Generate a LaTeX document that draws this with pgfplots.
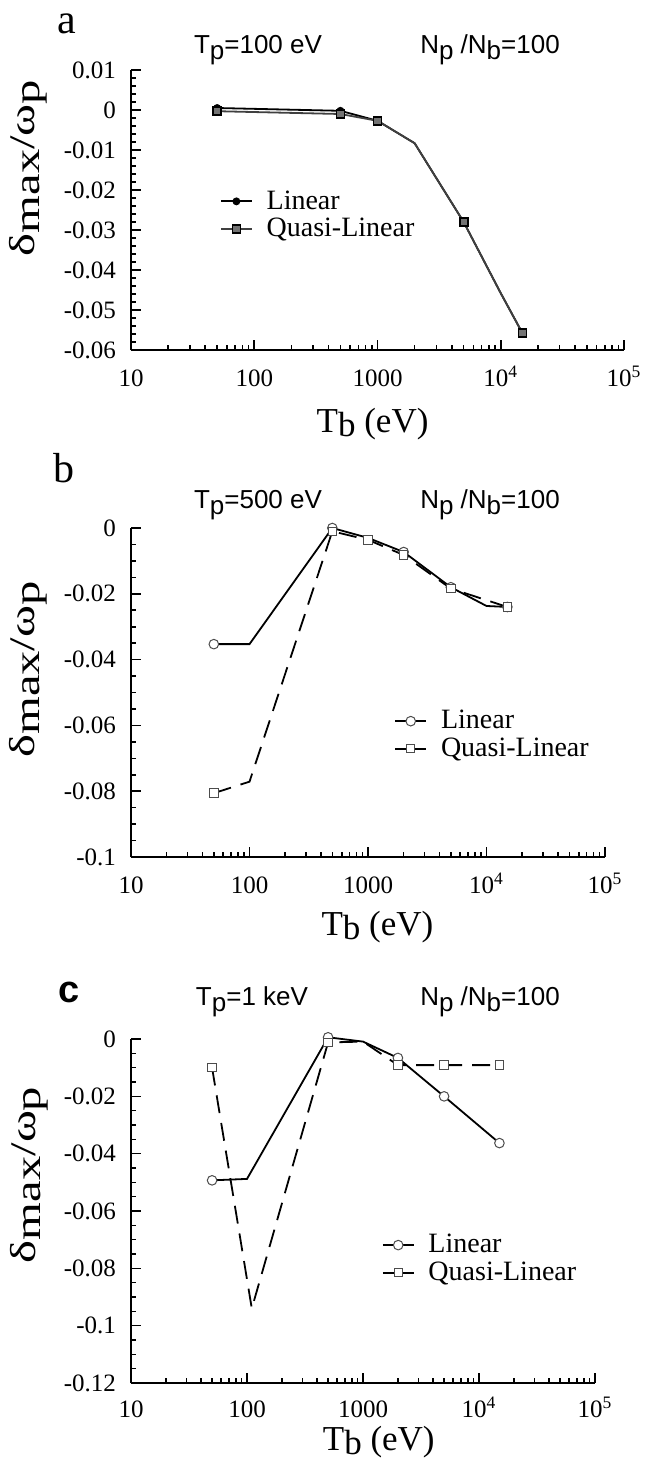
\documentclass[border=0pt]{standalone}
\usepackage{fontspec}
\setmainfont{Liberation Serif}
\setsansfont{Liberation Sans}
\usepackage{pgfplots}
\pgfplotsset{compat=1.18}

\pgfplotsset{
  mypanel/.style={
    xmin=10, xmax=100000, scale only axis, clip=false,
    axis lines=left, axis line style={-, line width=1.2pt},
    tick align=inside, major tick length=5pt, minor tick length=2.6pt,
    tick style={line width=0.8pt, black},
    scaled y ticks=false,
    xtick={10,100,1000,10000,100000},
    xticklabels={10,100,1000,10\textsuperscript{4},10\textsuperscript{5}},
    minor xtick={20,30,40,50,60,70,80,90,200,300,400,500,600,700,800,900,
      2000,3000,4000,5000,6000,7000,8000,9000,20000,30000,40000,50000,60000,70000,80000,90000},
    tick label style={font=\fontsize{12.5}{14}\selectfont},
    xticklabel style={anchor=base, yshift=-18pt},
    yticklabel style={xshift=-4pt},
    xlabel={T\raisebox{-2pt}{b} (eV)},
    ylabel={\scalebox{1.35}[1]{δ\raisebox{-0.3ex}{max}/ω\raisebox{-0.3ex}{p}}},
    xlabel style={font=\fontsize{17.5}{20}\selectfont, anchor=base, inner sep=1pt},
    ylabel style={font=\fontsize{18}{20}\selectfont, anchor=center},
    legend cell align=left,
    legend style={draw=none, fill=none, font=\fontsize{14}{15}\selectfont,
      inner sep=0pt, row sep=-1pt, anchor=north west},
  },
  linsty/.style={black, line width=0.9pt},
  qsty/.style={black, line width=0.9pt, dash pattern=on 9pt off 5pt},
  circsty/.style={mark=*, mark size=2.4pt, mark options={solid, fill=white, draw=black!70, line width=0.5pt}},
  sqsty/.style={mark=square*, mark size=2.1pt, mark options={solid, fill=white, draw=black!70, line width=0.5pt}},
  legimg/.style={legend image code/.code={
      \draw[##1, solid, mark indices={2}] plot coordinates {(0cm,0cm)(0.27cm,0cm)(0.54cm,0cm)};
      \path (0.54cm+5pt,0cm);}},
}

\newcommand{\tnote}[1]{{\sffamily\fontsize{13}{15}\selectfont #1}}
\newcommand{\lo}[1]{\raisebox{-0.45ex}{#1}}

\begin{document}
\begin{tikzpicture}
\useasboundingbox (0,0) rectangle (330pt,-730.5pt);

% ---------- panel a: Tp = 100 eV
\node[font=\fontsize{21}{22}\selectfont] at (33.5pt,-12pt) {a};
\node at (129pt,-25pt) {\tnote{T\lo{p}=100 eV}};
\node at (245pt,-25pt) {\tnote{N\lo{p} /N\lo{b}=100}};
\begin{axis}[xmode=log, mypanel, legimg,
  at={(65.5pt,-175pt)}, anchor=south west,
  width=246.5pt, height=140pt,
  ymin=-0.06, ymax=0.01,
  ytick={-0.06,-0.05,-0.04,-0.03,-0.02,-0.01,0,0.01},
  yticklabels={-0.06,-0.05,-0.04,-0.03,-0.02,-0.01,0,0.01},
  minor y tick num=4,
  xlabel style={at={(axis description cs:0.49,-0.293)}},
  ylabel style={at={(axis description cs:-0.209,0.65)}},
  legend style={at={(0.18,0.585)}},
]
\addplot[linsty, mark=*, mark size=1.5pt, mark indices={1,2,3,5,7}]
  coordinates {(50,0.0005)(500,-0.0002)(1000,-0.0027)(2000,-0.0083)(5000,-0.028)(10000,-0.0458)(15000,-0.0558)};
\addlegendentry{Linear}
\addplot[black!75, line width=0.9pt, mark=square*, mark size=2pt,
  mark options={fill=black!55, draw=black}, mark indices={1,2,3,5,7}]
  coordinates {(50,-0.0003)(500,-0.001)(1000,-0.0027)(2000,-0.0083)(5000,-0.028)(10000,-0.0458)(15000,-0.0558)};
\addlegendentry{Quasi-Linear}
\end{axis}

% ---------- panel b: Tp = 500 eV
\node[font=\fontsize{21}{22}\selectfont] at (32pt,-234pt) {b};
\node at (129pt,-252.5pt) {\tnote{T\lo{p}=500 eV}};
\node at (245pt,-252.5pt) {\tnote{N\lo{p} /N\lo{b}=100}};
\begin{axis}[xmode=log, mypanel, legimg,
  at={(65.5pt,-428.5pt)}, anchor=south west,
  width=237pt, height=164.5pt,
  ymin=-0.1, ymax=0,
  ytick={-0.1,-0.08,-0.06,-0.04,-0.02,0},
  yticklabels={-0.1,-0.08,-0.06,-0.04,-0.02,0},
  minor y tick num=3,
  xlabel style={at={(axis description cs:0.52,-0.24)}},
  ylabel style={at={(axis description cs:-0.217,0.57)}},
  legend style={at={(0.555,0.459)}},
]
\addplot[linsty, circsty, mark indices={1,3,5,6,8}]
  coordinates {(50,-0.0353)(100,-0.0353)(500,0)(1000,-0.003)(2000,-0.0073)(5000,-0.018)(10000,-0.0237)(15000,-0.024)};
\addlegendentry{Linear}
\addplot[qsty, sqsty, mark indices={1,3,4,5,6,7}]
  coordinates {(50,-0.0806)(100,-0.0771)(500,-0.001)(1000,-0.0036)(2000,-0.0082)(5000,-0.0184)(15000,-0.024)};
\addlegendentry{Quasi-Linear}
\end{axis}

% ---------- panel c: Tp = 1 keV
\node[font=\sffamily\bfseries\fontsize{19}{20}\selectfont] at (34.5pt,-496pt) {c};
\node at (126pt,-501pt) {\tnote{T\lo{p}=1 keV}};
\node at (245pt,-501pt) {\tnote{N\lo{p} /N\lo{b}=100}};
\begin{axis}[xmode=log, mypanel, legimg,
  at={(65.5pt,-691.5pt)}, anchor=south west,
  width=232pt, height=172pt,
  ymin=-0.12, ymax=0,
  ytick={-0.12,-0.1,-0.08,-0.06,-0.04,-0.02,0},
  yticklabels={-0.12,-0.1,-0.08,-0.06,-0.04,-0.02,0},
  minor y tick num=3,
  xticklabel style={yshift=1pt},
  xlabel style={at={(axis description cs:0.534,-0.197)}},
  ylabel style={at={(axis description cs:-0.22,0.605)}},
  legend style={at={(0.54,0.445)}},
]
\addplot[linsty, circsty, mark indices={1,3,5,6,7}]
  coordinates {(50,-0.0493)(100,-0.0488)(500,0.0006)(1000,-0.0009)(2000,-0.0066)(5000,-0.020)(15000,-0.0363)};
\addlegendentry{Linear}
\addplot[qsty, sqsty, mark indices={1,3,5,6,7}]
  coordinates {(50,-0.010)(110,-0.094)(500,-0.0012)(1000,-0.0009)(2000,-0.0091)(5000,-0.0091)(15000,-0.0091)};
\addlegendentry{Quasi-Linear}
\end{axis}
\end{tikzpicture}
\end{document}
